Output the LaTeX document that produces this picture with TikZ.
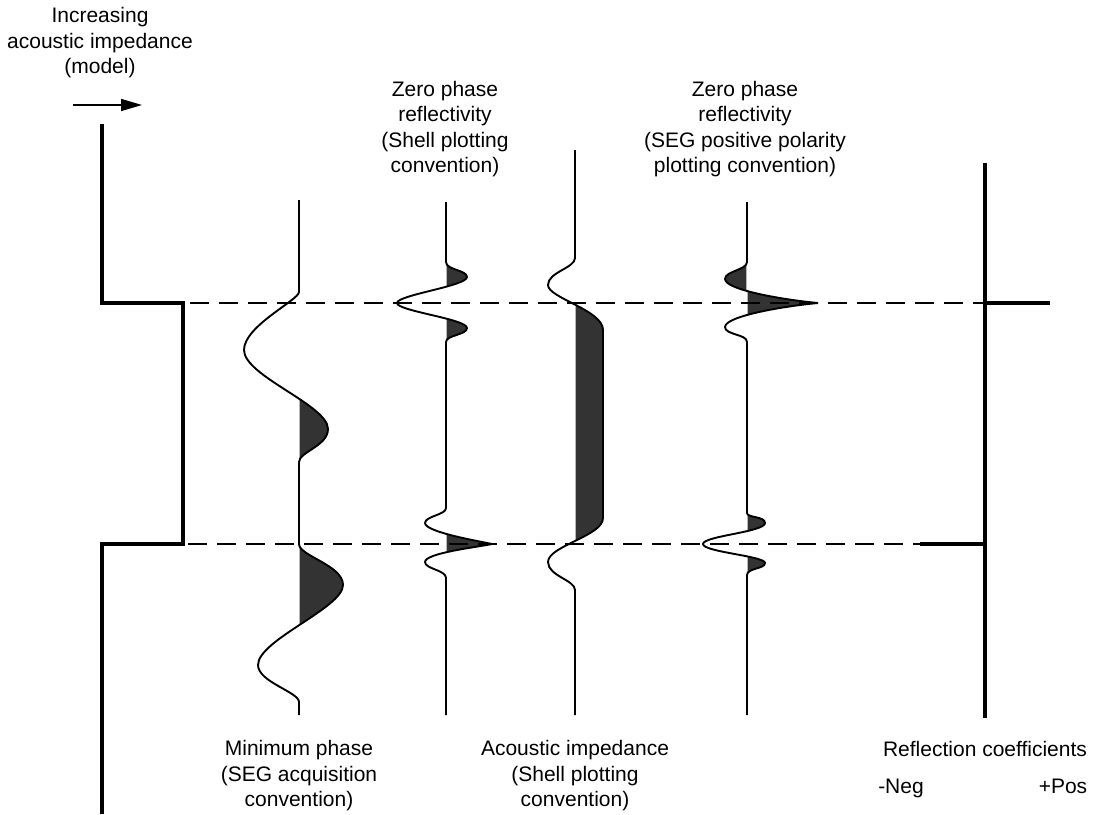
\documentclass[tikz,border=0pt]{standalone}
\usepackage{fontspec}
\setmainfont{Liberation Sans}
\usetikzlibrary{arrows.meta}

\tikzset{
  trace/.style={line width=1.9pt},
  lobe/.style={fill=black!80},
  model/.style={line width=4pt},
  horizon/.style={line width=1.4pt, dash pattern=on 19pt off 10pt},
  notetext/.style={align=center, inner sep=0pt, font=\fontsize{21}{25.5}\selectfont},
}

% trace paths, x to the right and y downwards
\newcommand{\minphasepath}{(299,200) -- (299,292)
  .. controls (299,300) and (244,326) .. (244,350)
  .. controls (244,376) and (328,405) .. (328,429)
  .. controls (328,446) and (299,452) .. (299,462)
  -- (299,544)
  .. controls (299,556) and (343,565) .. (343,585)
  .. controls (343,608) and (258,640) .. (258,665)
  .. controls (258,682) and (299,692) .. (299,702)
  -- (299,715)}
\newcommand{\shellreflpath}{(446,202) -- (446,262)
  .. controls (446,270) and (467,270) .. (467,277)
  .. controls (467,286) and (397,295) .. (397,303)
  .. controls (397,311) and (467,319) .. (467,328)
  .. controls (467,335) and (446,335) .. (446,342)
  -- (446,508)
  .. controls (446,515) and (425,516) .. (425,523)
  .. controls (425,532) and (478,541) .. (492,544)
  .. controls (478,547) and (425,553) .. (425,562)
  .. controls (425,569) and (446,570) .. (446,578)
  -- (446,715)}
\newcommand{\aipath}{(575,150) -- (575,258)
  .. controls (575,268) and (548,272) .. (548,285)
  .. controls (548,298) and (603,310) .. (603,330)
  -- (603,518)
  .. controls (603,536) and (548,546) .. (548,562)
  .. controls (548,576) and (575,580) .. (575,590)
  -- (575,715)}
\newcommand{\segreflpath}{(747,202) -- (747,262)
  .. controls (747,270) and (725,271) .. (725,279)
  .. controls (725,290) and (785,300) .. (818,303)
  .. controls (785,306) and (725,316) .. (725,327)
  .. controls (725,335) and (747,334) .. (747,342)
  -- (747,513)
  .. controls (747,518) and (765,516) .. (765,523)
  .. controls (765,532) and (703,536) .. (703,544)
  .. controls (703,552) and (765,556) .. (765,563)
  .. controls (765,569) and (747,568) .. (747,575)
  -- (747,715)}

\begin{document}
\begin{tikzpicture}[x=1pt,y=-1pt]
    \useasboundingbox (0,0) rectangle (1094,814);
    % Shade the lobes
    \begin{scope}
        \clip (299.6,0) rectangle (420,814);
        \fill[lobe] \minphasepath -- cycle;
    \end{scope}
    \begin{scope}
        \clip (446.6,0) rectangle (540,814);
        \fill[lobe] \shellreflpath -- cycle;
    \end{scope}
    \begin{scope}
        \clip (575.6,0) rectangle (640,814);
        \fill[lobe] \aipath -- cycle;
    \end{scope}
    \begin{scope}
        \clip (747.6,0) rectangle (860,814);
        \fill[lobe] \segreflpath -- cycle;
    \end{scope}
    \begin{scope}
        \clip (700,255) rectangle (746.4,300);
        \fill[lobe] \segreflpath -- cycle;
    \end{scope}
    % Interfaces
    \draw[horizon] (190,303) -- (985,303);
    \draw[horizon] (188,544) -- (920,544);
    % Impedance model
    \draw[model] (102,124) -- (102,303) -- (183,303) -- (183,544) -- (102,544) -- (102,814);
    \coordinate (arrowstart) at (73,105);
    \coordinate (arrowend) at (142,105);
    \draw[line width=1.5pt, -{Triangle[length=21pt,width=12pt]}] (arrowstart) -- (arrowend);
    % Traces
    \draw[trace] \minphasepath;
    \draw[trace] \shellreflpath;
    \draw[trace] \aipath;
    \draw[trace] \segreflpath;
    % Reflection coefficients
    \draw[model] (985,163) -- (985,718);
    \draw[model] (985,303) -- (1050,303);
    \draw[model] (920,544) -- (985,544);
    % Labels
    \node[notetext] (modeltext) at (100,43) {Increasing\\acoustic impedance\\(model)};
    \node[notetext] (shellrefltext) at (445,129) {Zero phase\\reflectivity\\(Shell plotting\\convention)};
    \node[notetext] (segrefltext) at (745,129) {Zero phase\\reflectivity\\(SEG positive polarity\\plotting convention)};
    \node[notetext] (minphasetext) at (299,776) {Minimum phase\\(SEG acquisition\\convention)};
    \node[notetext] (aitext) at (575,776) {Acoustic impedance\\(Shell plotting\\convention)};
    \node[notetext, anchor=base] (rctext) at (985,756) {Reflection coefficients};
    \node[notetext, anchor=base] (negtext) at (901,793) {-Neg};
    \node[notetext, anchor=base] (postext) at (1063,793) {+Pos};
\end{tikzpicture}
\end{document}
